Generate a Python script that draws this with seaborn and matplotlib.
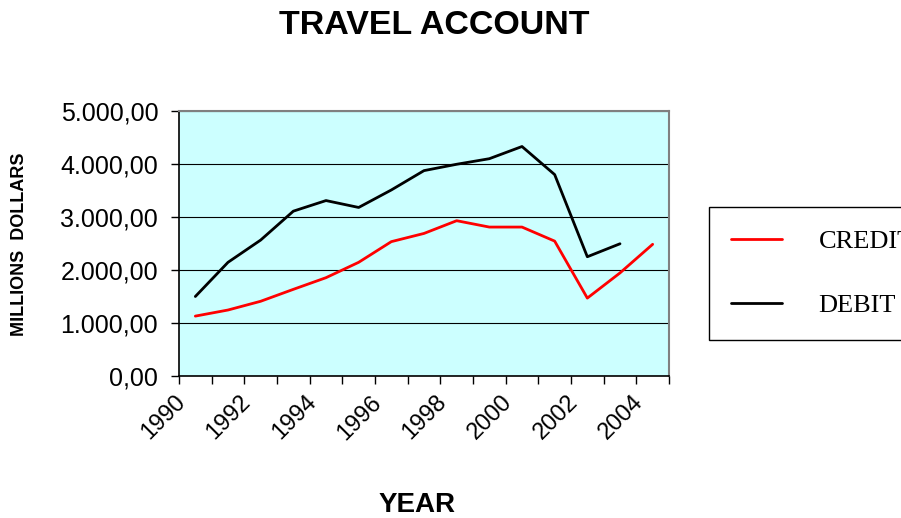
"""
Travel account chart: credit vs debit, 1990-2004 (millions of dollars)
"""

import pandas as pd
import numpy as np
import matplotlib
matplotlib.use("Agg")
import matplotlib.pyplot as plt
from matplotlib.lines import Line2D
from matplotlib.transforms import ScaledTranslation
import seaborn as sns

# ─────────────────────────────────────────────
# DATA
# ─────────────────────────────────────────────
years = list(range(1990, 2005))
credit = [1130, 1245, 1410, 1635, 1855, 2145, 2535, 2690, 2930, 2810,
          2810, 2545, 1470, 1945, 2485]
debit = [1500, 2145, 2565, 3110, 3310, 3180, 3510, 3875, 3995, 4100,
         4330, 3800, 2250, 2495, np.nan]
year_labels = [str(y) for y in years[::2]]

df = pd.DataFrame({
    "year": years * 2,
    "value": credit + debit,
    "series": ["CREDIT"] * len(years) + ["DEBIT"] * len(years),
}).dropna()

# ─────────────────────────────────────────────
# STYLE
# ─────────────────────────────────────────────
sns.set_theme(style="white")
plt.rcParams["font.family"] = ["Liberation Sans", "DejaVu Sans"]
for key in ["text.color", "axes.labelcolor", "xtick.color", "ytick.color"]:
    plt.rcParams[key] = "black"

fig = plt.figure(figsize=(9.01, 5.18), dpi=100)
ax = fig.add_axes([179 / 901, 1 - 376 / 518, 490 / 901, 265 / 518])
ax.set_facecolor("#CCFFFF")

sns.lineplot(data=df, x="year", y="value", hue="series",
             palette={"CREDIT": "#FF0000", "DEBIT": "#000000"},
             linewidth=2.0, legend=False, ax=ax)

# axes
ax.set_ylim(0, 5000)
ax.set_yticks([0, 1000, 2000, 3000, 4000, 5000])
ax.set_yticklabels([f"{v:,.2f}".replace(",", "X").replace(".", ",").replace("X", ".")
                    for v in [0, 1000, 2000, 3000, 4000, 5000]], fontsize=18)
ax.yaxis.grid(True, color="black", linewidth=0.8)
ax.set_axisbelow(True)

ax.set_xlim(years[0] - 0.5, years[-1] + 0.5)
# major ticks on category boundaries, labels on every second category
ax.set_xticks(np.arange(years[0] - 0.5, years[-1] + 1, 1.0))
ax.set_xticklabels([])
ax.set_xticks(years[::2], minor=True)
ax.set_xticklabels(year_labels, minor=True, rotation=45, ha="right",
                   va="top", rotation_mode="anchor", fontsize=17)
ax.tick_params(axis="x", which="minor", length=0, pad=11)
ax.tick_params(axis="both", which="major", length=6, width=1, color="black",
               direction="out", bottom=True, left=True)
ax.tick_params(axis="y", which="major", pad=9)
shift = ScaledTranslation(-15 / 72, 0, fig.dpi_scale_trans)
for lbl in ax.get_xticklabels(minor=True):
    lbl.set_transform(lbl.get_transform() + shift)

for side in ["left", "bottom"]:
    ax.spines[side].set_color("black")
    ax.spines[side].set_linewidth(1.2)
for side in ["top", "right"]:
    ax.spines[side].set_color("#808080")
    ax.spines[side].set_linewidth(1.5)

ax.set_xlabel("")
ax.set_ylabel("")

# texts
fig.text(434 / 901, 1 - 25.5 / 518, "TRAVEL ACCOUNT", ha="center", va="center",
         fontsize=24.5, fontweight="bold")
fig.text(417 / 901, 1 - 505 / 518, "YEAR", ha="center", va="center",
         fontsize=20, fontweight="bold")
fig.text(20 / 901, 1 - 244 / 518, "MILLIONS  DOLLARS", ha="center", va="center",
         rotation=90, fontsize=13, fontweight="bold")

# legend
handles = [Line2D([], [], color="#FF0000", linewidth=2.0),
           Line2D([], [], color="#000000", linewidth=2.0)]
leg = ax.legend(handles, ["CREDIT", "DEBIT"], loc="upper left",
                bbox_to_anchor=(709 / 901, 1 - 207 / 518),
                bbox_transform=fig.transFigure, frameon=True, fancybox=False,
                prop={"family": "Liberation Serif", "size": 19},
                handlelength=1.9, handletextpad=1.4, labelspacing=1.55,
                borderpad=0.85, borderaxespad=0)
leg.get_frame().set_edgecolor("black")
leg.get_frame().set_linewidth(1.0)
leg.get_frame().set_facecolor("white")
leg.get_frame().set_alpha(1)

fig.savefig("out.png", dpi=100)
